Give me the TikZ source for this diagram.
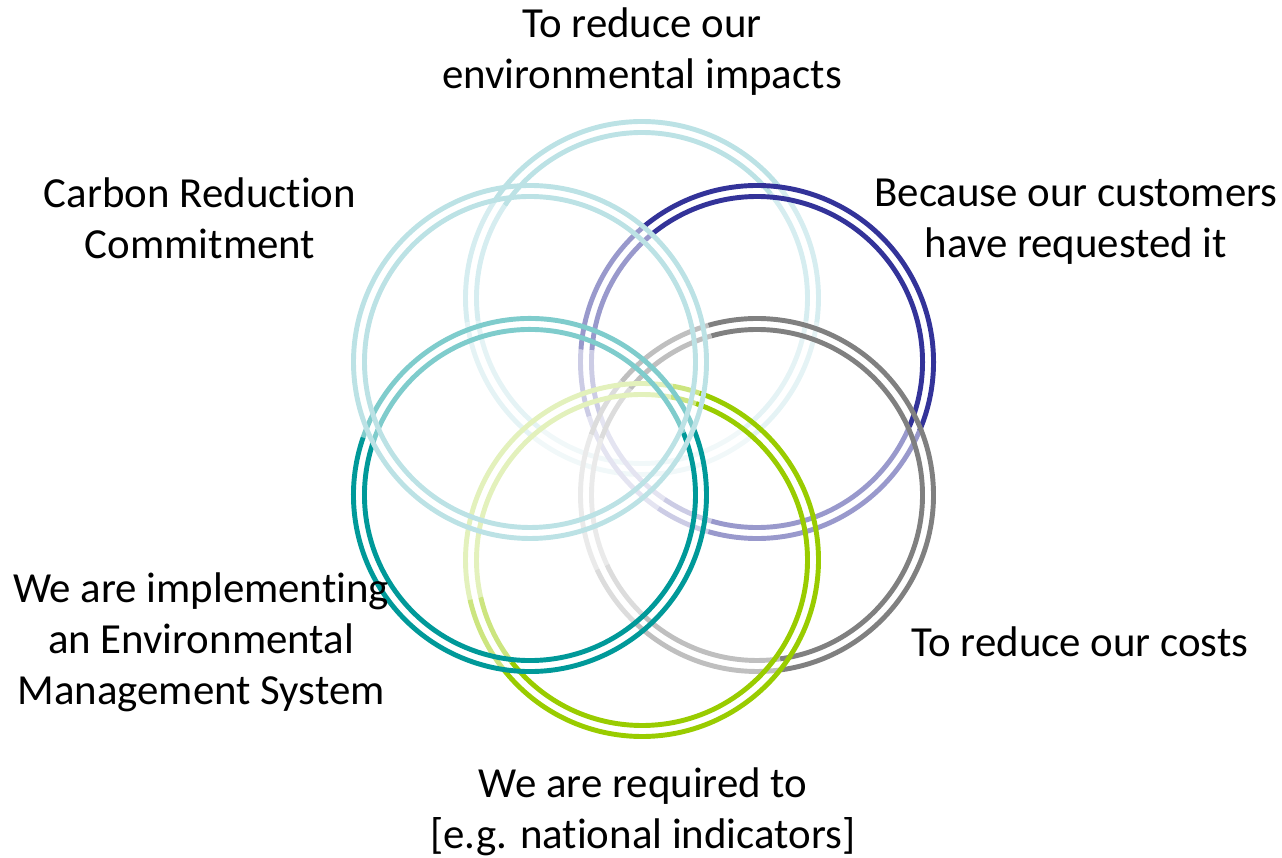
\documentclass[tikz,border=0pt]{standalone}
\usepackage{fontspec}
\setmainfont{Carlito}[Ligatures=NoCommon]
\usepackage{tikz}

\definecolor{ltblue}{HTML}{BCE2E5}
\definecolor{ltblueA}{HTML}{D6EDF0}
\definecolor{ltblueB}{HTML}{E5F3F5}
\definecolor{ltblueC}{HTML}{F1F8F9}
\definecolor{navy}{HTML}{333399}
\definecolor{navyA}{HTML}{9999CC}
\definecolor{navyB}{HTML}{CCCCE5}
\definecolor{navyC}{HTML}{E4E4F1}
\definecolor{grey}{HTML}{808080}
\definecolor{greyA}{HTML}{BFBFBF}
\definecolor{greyB}{HTML}{DCDCDC}
\definecolor{greyC}{HTML}{EAEAEA}
\definecolor{lime}{HTML}{99CC00}
\definecolor{limeA}{HTML}{CCE57F}
\definecolor{limeB}{HTML}{E3F1BC}
\definecolor{teal}{HTML}{009999}
\definecolor{tealA}{HTML}{7FCCCC}

% double ring piece: centre, start, end, colour
\newcommand{\ringarc}[4]{%
	\draw[ring,#4] (#1) ++(#2:176.5) arc[start angle=#2, end angle=#3, radius=176.5];
	\draw[ring,#4] (#1) ++(#2:165.5) arc[start angle=#2, end angle=#3, radius=165.5];}

\begin{document}
\begin{tikzpicture}[x=0.02cm,y=0.02cm,
	ring/.style={line width=2.8pt},
	txt/.style={align=center,font=\fontsize{24.4}{29}\selectfont}]
	\useasboundingbox (0,0) rectangle (1282,858);
	\coordinate (T) at (642, 560);
	\coordinate (P) at (757, 496);
	\coordinate (G) at (757, 363);
	\coordinate (N) at (642, 298);
	\coordinate (E) at (530, 363);
	\coordinate (C) at (530, 496);
	% rings
	\foreach \a/\b/\c in {39/146/ltblue, 146/188/ltblueA, 188/232/ltblueB, 232/308/ltblueC,
		308/352/ltblueB, 352/399/ltblueA}
		{\ringarc{T}{\a}{\b}{\c}}
	\foreach \a/\b/\c in {-23/130/navy, 130/176/navyA, 176/198/navyB, 198/236/navyC,
		236/254/navyB, 254/337/navyA}
		{\ringarc{P}{\a}{\b}{\c}}
	\foreach \a/\b/\c in {-82/106/grey, 106/140/greyA, 140/160/greyB, 160/205/greyC,
		205/227/greyB, 227/278/greyA}
		{\ringarc{G}{\a}{\b}{\c}}
	\foreach \a/\b/\c in {-142/71/lime, 71/80/limeA, 80/193/limeB, 193/218/limeA}
		{\ringarc{N}{\a}{\b}{\c}}
	\foreach \a/\b/\c in {22/161/tealA, 161/382/teal}
		{\ringarc{E}{\a}{\b}{\c}}
	\ringarc{C}{0}{360}{ltblue}
	% texts
	\node[txt] (impacts)   at (642, 806) {To reduce our\\environmental impacts};
	\node[txt] (customers) at (1076, 636) {Because our customers\\have requested it};
	\node[txt] (costs)     at (1080, 216) {To reduce our costs};
	\node[txt] (required)  at (643, 46)  {We are required to\\{[}e.g. national indicators{]}};
	\node[txt] (ems)       at (201, 216) {We are implementing\\an Environmental\\Management System};
	\node[txt] (carbon)    at (200, 640) {Carbon Reduction\\Commitment};
\end{tikzpicture}
\end{document}
